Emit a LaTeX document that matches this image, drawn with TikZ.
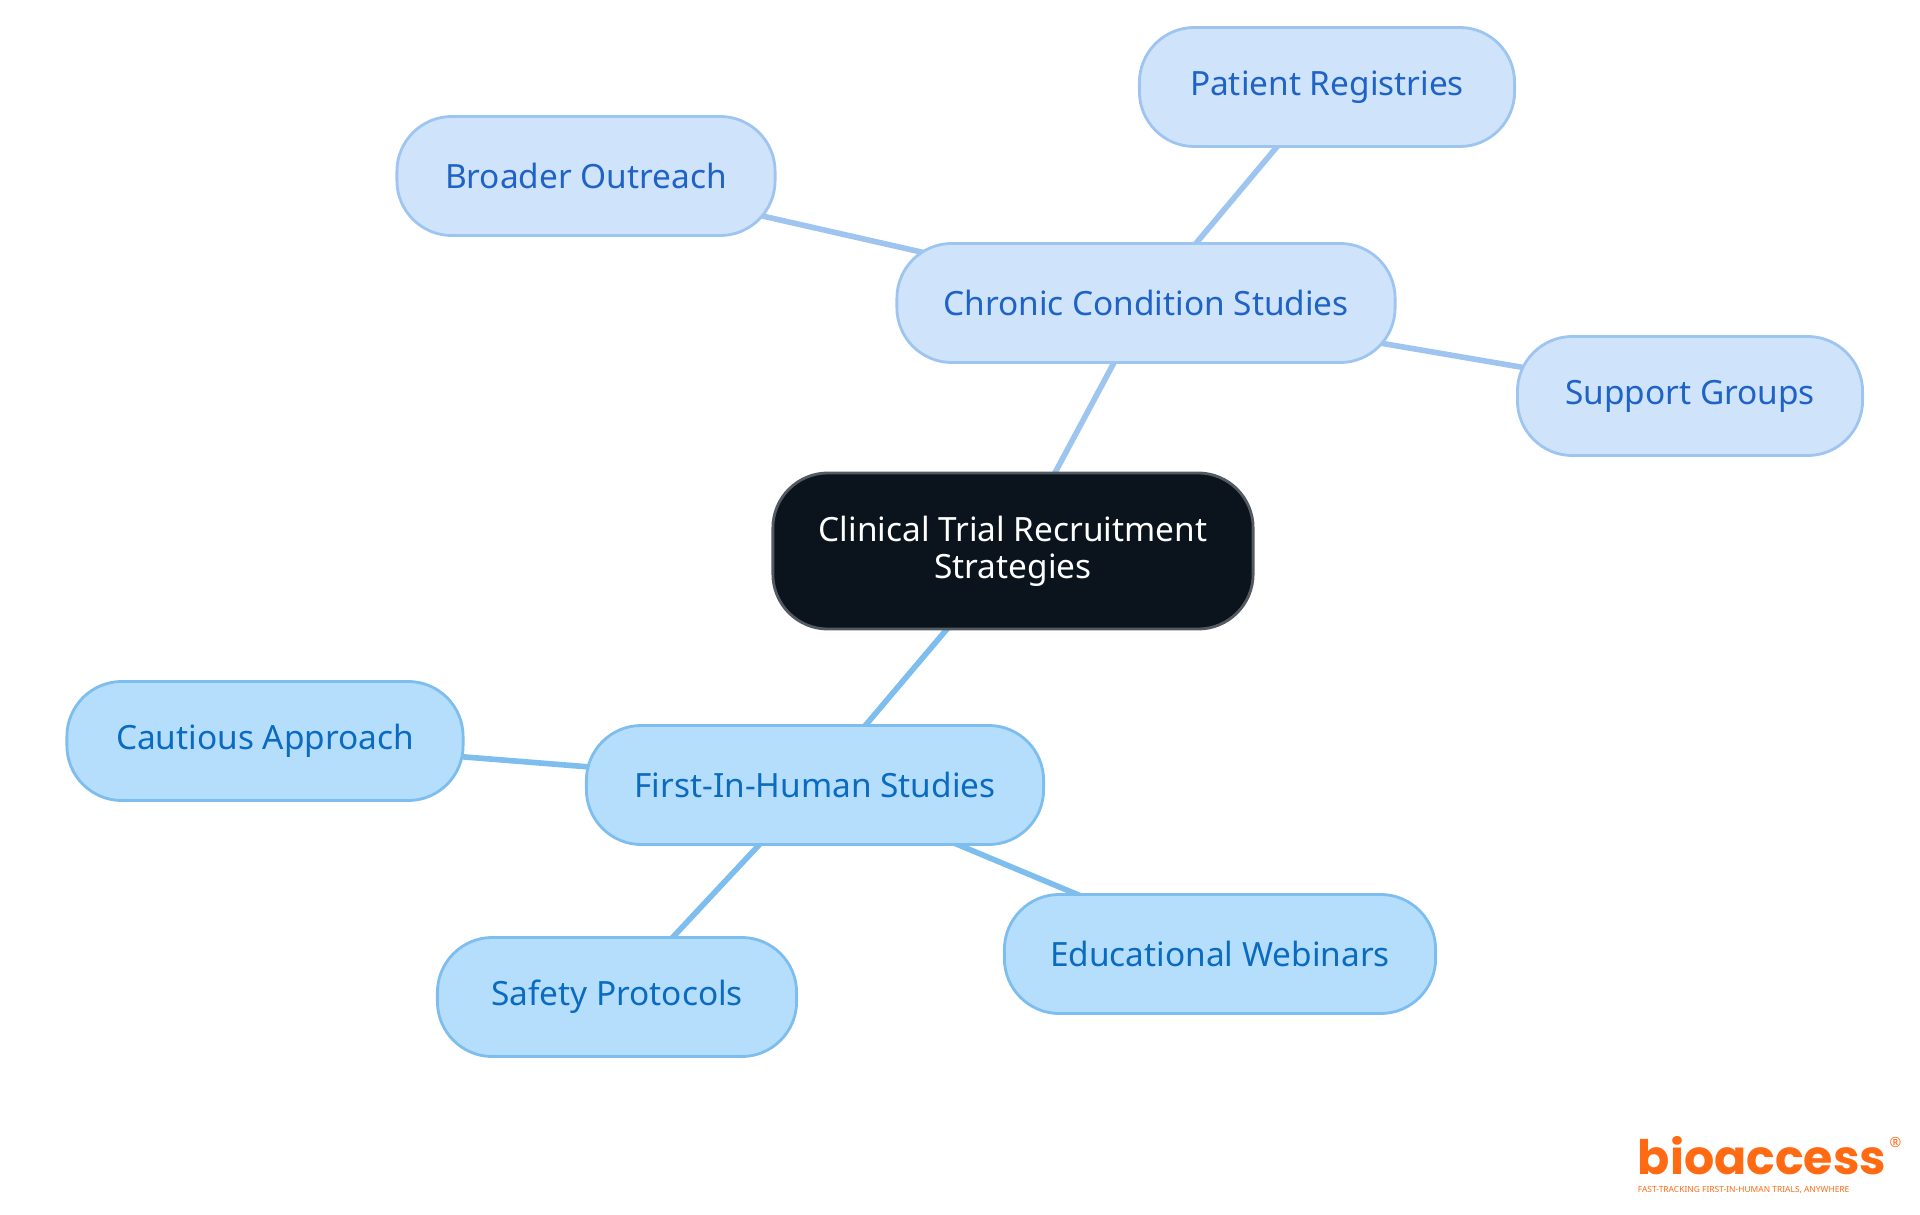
\documentclass[tikz,border=0pt]{standalone}
\usepackage{fontspec}
\setmainfont{Noto Sans}
\newfontfamily\logofont{Poppins}
\usetikzlibrary{positioning}
\usetikzlibrary{backgrounds}
\definecolor{rootfill}{HTML}{0B131D}
\definecolor{chrfill}{HTML}{CFE3FB}
\definecolor{chrline}{HTML}{9EC5F0}
\definecolor{chrtext}{HTML}{1F63C7}
\definecolor{fihfill}{HTML}{B5DEFD}
\definecolor{fihline}{HTML}{7DBEEE}
\definecolor{fihtext}{HTML}{0B6BC0}
\definecolor{logo}{HTML}{FF6A13}
\tikzset{
	rootbox/.style={draw=rootfill!70!white, fill=rootfill, text=white, rounded corners=0.55cm,
		minimum width=4.8cm, minimum height=1.56cm, align=center, font=\fontsize{9.5}{10.5}\selectfont, line width=0.8pt},
	chrbox/.style={draw=chrline, fill=chrfill, text=chrtext, rounded corners=0.55cm,
		minimum height=1.19cm, font=\fontsize{9.5}{11}\selectfont, line width=0.8pt},
	fihbox/.style={draw=fihline, fill=fihfill, text=fihtext, rounded corners=0.55cm,
		minimum height=1.19cm, font=\fontsize{9.5}{11}\selectfont, line width=0.8pt},
	chrlink/.style={draw=chrline, line width=1.6pt},
	fihlink/.style={draw=fihline, line width=1.6pt}
}
\begin{document}
\begin{tikzpicture}[x=0.01cm, y=-0.01cm]
	\useasboundingbox (0,0) rectangle (1920,1215);
	
	% root
	\node[rootbox] (root) at (1013,551) {Clinical Trial Recruitment\\Strategies};
	
	% Chronic condition branch
	\node[chrbox, minimum width=4.98cm] (chronic) at (1146,303) {Chronic Condition Studies};
	\node[chrbox, minimum width=3.75cm] (registries) at (1327,87) {Patient Registries};
	\node[chrbox, minimum width=3.78cm] (outreach) at (586,176) {Broader Outreach};
	\node[chrbox, minimum width=3.45cm] (support) at (1690,396) {Support Groups};
	
	% First-in-human branch
	\node[fihbox, minimum width=4.57cm] (fih) at (815,785) {First-In-Human Studies};
	\node[fihbox, minimum width=3.96cm] (cautious) at (265,741) {Cautious Approach};
	\node[fihbox, minimum width=3.59cm] (safety) at (617,997) {Safety Protocols};
	\node[fihbox, minimum width=4.31cm] (webinars) at (1220,954) {Educational Webinars};
	
	\begin{scope}[on background layer]
		\draw[chrlink] (root.center) -- (chronic.center);
		\draw[chrlink] (chronic.center) -- (registries.center);
		\draw[chrlink] (chronic.center) -- (outreach.center);
		\draw[chrlink] (chronic.center) -- (support.center);
		\draw[fihlink] (root.center) -- (fih.center);
		\draw[fihlink] (fih.center) -- (cautious.center);
		\draw[fihlink] (fih.center) -- (safety.center);
		\draw[fihlink] (fih.center) -- (webinars.center);
	\end{scope}
	
	% logo
	\node[text=logo, font=\logofont\fontsize{13.5}{13.5}\selectfont\bfseries, inner sep=0pt] (brand) at (1762,1156) {bioaccess};
	\node[text=logo, font=\fontsize{2.4}{3}\selectfont, inner sep=0pt, anchor=north west] (tagline) at ([yshift=-0.1cm]brand.south west) {FAST-TRACKING FIRST-IN-HUMAN TRIALS, ANYWHERE};
	\node[text=logo, font=\fontsize{4}{4}\selectfont, inner sep=0pt, anchor=south west] (reg) at ([xshift=0.02cm, yshift=-0.12cm]brand.north east) {®};
\end{tikzpicture}
\end{document}
